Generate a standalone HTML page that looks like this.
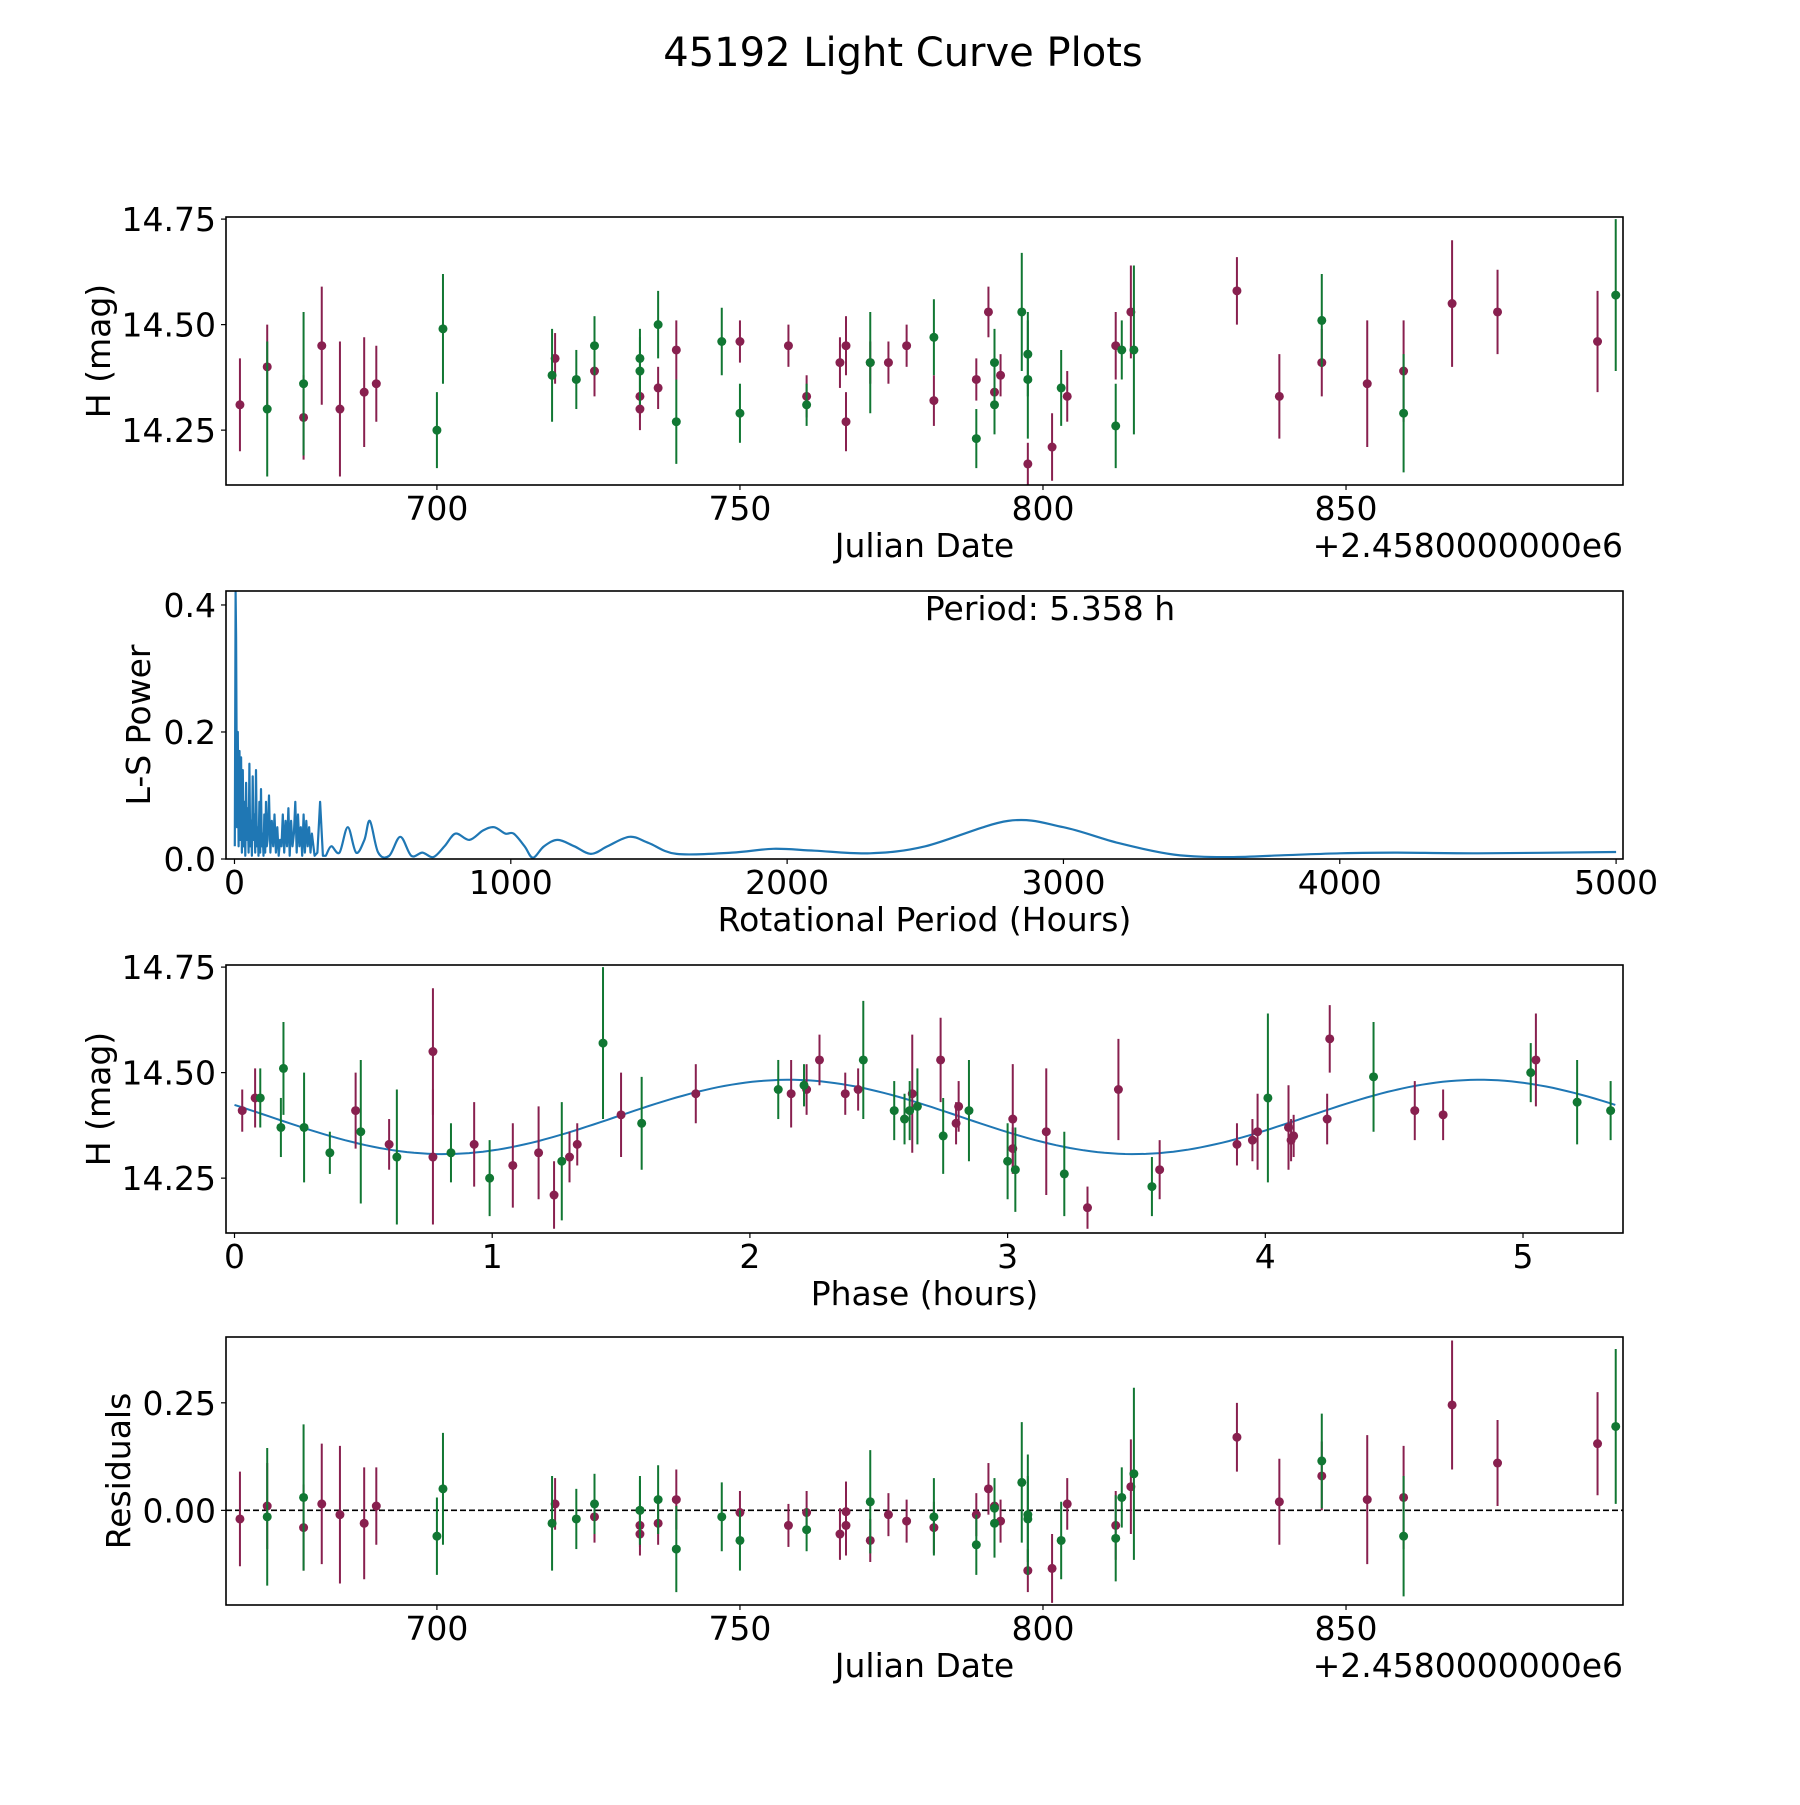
<!DOCTYPE html>
<html><head><meta charset="utf-8"><style>
html,body{margin:0;padding:0;background:#fff}
svg text{font-family:"DejaVu Sans","Liberation Sans",sans-serif;fill:#000}
</style></head><body>
<svg id="fig" width="1800" height="1800" viewBox="0 0 1800 1800" xmlns="http://www.w3.org/2000/svg">
<rect width="1800" height="1800" fill="#fff"/>
<text x="903" y="66" font-size="40" text-anchor="middle">45192 Light Curve Plots</text>
</svg>
<script>
// ---- Top light curve data ----
const purpleJD=[667.5,672,678,681,684,688,690,719.5,726,733.5,733.5,736.5,739.5,750,758,761,766.5,767.5,767.5,771.5,774.5,777.5,782,789,791,792,793,797.5,801.5,804,812,814.5,832,839,846,853.5,859.5,867.5,875,891.5];
const purpleH=[14.31,14.40,14.28,14.45,14.30,14.34,14.36,14.42,14.39,14.33,14.30,14.35,14.44,14.46,14.45,14.33,14.41,14.45,14.27,14.41,14.41,14.45,14.32,14.37,14.53,14.34,14.38,14.17,14.21,14.33,14.45,14.53,14.58,14.33,14.41,14.36,14.39,14.55,14.53,14.46];
const purpleErr=[0.11,0.10,0.10,0.14,0.16,0.13,0.09,0.06,0.06,0.05,0.05,0.05,0.07,0.05,0.05,0.05,0.06,0.07,0.07,0.05,0.05,0.05,0.06,0.05,0.06,0.05,0.05,0.05,0.08,0.06,0.08,0.11,0.08,0.10,0.08,0.15,0.12,0.15,0.10,0.12];
const greenJD=[672,678,701,700,719,723,726,733.5,733.5,736.5,739.5,747,750,761,771.5,782,789,792,792,796.5,797.5,797.5,803,812,813,815,846,859.5,894.5];
const greenH=[14.30,14.36,14.49,14.25,14.38,14.37,14.45,14.42,14.39,14.50,14.27,14.46,14.29,14.31,14.41,14.47,14.23,14.41,14.31,14.53,14.43,14.37,14.35,14.26,14.44,14.44,14.51,14.29,14.57];
const greenErr=[0.16,0.17,0.13,0.09,0.11,0.07,0.07,0.07,0.08,0.08,0.10,0.08,0.07,0.05,0.12,0.09,0.07,0.08,0.07,0.14,0.10,0.14,0.09,0.10,0.07,0.20,0.11,0.14,0.18];
// ---- Residuals ----
const purpleRes=[-0.02,0.01,-0.04,0.015,-0.01,-0.03,0.01,0.015,-0.015,-0.035,-0.055,-0.03,0.025,-0.005,-0.035,-0.005,-0.055,-0.003,-0.035,-0.07,-0.01,-0.025,-0.04,-0.01,0.05,0.01,-0.025,-0.14,-0.135,0.015,-0.035,0.055,0.17,0.02,0.08,0.025,0.03,0.245,0.11,0.155];
const greenRes=[-0.015,0.03,0.05,-0.06,-0.03,-0.02,0.015,0.0,0.0,0.025,-0.09,-0.015,-0.07,-0.045,0.02,-0.015,-0.08,-0.03,0.005,0.065,-0.02,-0.01,-0.07,-0.065,0.03,0.085,0.115,-0.06,0.195];
// ---- Phase plot ----
const purplePhase=[0.03,0.08,0.47,0.60,0.77,0.77,0.93,1.08,1.18,1.24,1.30,1.33,1.50,1.79,2.16,2.22,2.27,2.37,2.42,2.63,2.74,2.80,2.81,3.02,3.02,3.15,3.31,3.43,3.59,3.89,3.95,3.97,4.09,4.10,4.11,4.24,4.25,4.58,4.69,5.05];
const purplePhaseH=[14.41,14.44,14.41,14.33,14.55,14.30,14.33,14.28,14.31,14.21,14.30,14.33,14.40,14.45,14.45,14.46,14.53,14.45,14.46,14.45,14.53,14.38,14.42,14.39,14.32,14.36,14.18,14.46,14.27,14.33,14.34,14.36,14.37,14.34,14.35,14.39,14.58,14.41,14.40,14.53];
const purplePhaseErr=[0.05,0.07,0.09,0.06,0.15,0.16,0.10,0.10,0.11,0.08,0.06,0.05,0.10,0.07,0.08,0.06,0.06,0.05,0.05,0.14,0.10,0.05,0.06,0.13,0.05,0.15,0.05,0.12,0.07,0.05,0.05,0.09,0.10,0.05,0.05,0.06,0.08,0.07,0.06,0.11];
const greenPhase=[0.10,0.18,0.19,0.27,0.37,0.49,0.63,0.84,0.99,1.27,1.43,1.58,2.11,2.21,2.44,2.56,2.60,2.62,2.65,2.75,2.85,3.00,3.03,3.22,3.56,4.01,4.42,5.03,5.21,5.34];
const greenPhaseH=[14.44,14.37,14.51,14.37,14.31,14.36,14.30,14.31,14.25,14.29,14.57,14.38,14.46,14.47,14.53,14.41,14.39,14.41,14.42,14.35,14.41,14.29,14.27,14.26,14.23,14.44,14.49,14.50,14.43,14.41];
const greenPhaseErr=[0.07,0.07,0.11,0.13,0.05,0.17,0.16,0.07,0.09,0.14,0.18,0.11,0.07,0.05,0.14,0.07,0.06,0.07,0.09,0.09,0.12,0.09,0.10,0.10,0.07,0.20,0.13,0.07,0.10,0.07];
const fitParams=[14.395,0.088,2.679,2.15]; // mean, amplitude, period (h), phase of max
// ---- Periodogram ----
const lsPeriod=[1,4,6,9,12,15,18,21,24,27,30,33,36,39,42,45,48,51,54,57,60,63,66,69,72,75,78,81,84,87,90,93,96,99,102,105,108,111,114,117,120,125,130,135,140,145,150,155,160,165,170,175,180,185,190,195,200,205,210,215,220,225,230,235,240,245,250,255,260,265,270,275,280,290,300,310,320,330,350,380,410,440,470,490,520,560,600,640,680,720,760,800,850,900,940,980,1010,1050,1080,1120,1170,1230,1290,1350,1430,1500,1600,1800,1950,2100,2300,2500,2800,3000,3200,3400,3600,3800,4000,4200,4500,5000];
const lsPower=[0.02,0.42,0.35,0.05,0.20,0.02,0.17,0.03,0.16,0.01,0.14,0.02,0.09,0.005,0.12,0.03,0.08,0.01,0.15,0.02,0.06,0.005,0.13,0.03,0.07,0.01,0.14,0.02,0.05,0.005,0.09,0.01,0.11,0.02,0.04,0.005,0.07,0.01,0.09,0.02,0.03,0.10,0.01,0.06,0.02,0.07,0.01,0.05,0.005,0.03,0.02,0.07,0.01,0.06,0.02,0.08,0.005,0.06,0.02,0.04,0.09,0.01,0.07,0.02,0.05,0.005,0.07,0.01,0.06,0.02,0.05,0.01,0.04,0.005,0.01,0.09,0.005,0.005,0.02,0.01,0.05,0.01,0.03,0.06,0.01,0.005,0.035,0.005,0.01,0.003,0.02,0.04,0.03,0.045,0.05,0.04,0.04,0.02,0.002,0.02,0.03,0.02,0.008,0.02,0.035,0.025,0.008,0.01,0.016,0.013,0.009,0.02,0.06,0.05,0.025,0.007,0.003,0.006,0.009,0.01,0.009,0.011];

const svg=document.getElementById('fig');
const NS='http://www.w3.org/2000/svg';
function mk(tag,attrs,parent){const e=document.createElementNS(NS,tag);for(const k in attrs)e.setAttribute(k,attrs[k]);(parent||svg).appendChild(e);return e;}
const L=226,R=1623,AH=268;
const PURPLE='#88204f',GREEN='#117733',FS=33;

function panel(top,xmin,xmax,ymin,ymax,xticks,xlabs,yticks,ylabs,xlabel,ylabel,offset,name,yx){
  const bot=top+AH;
  const g=mk('g',{});
  
  
  const sx=v=>L+(v-xmin)/(xmax-xmin)*(R-L);
  const sy=v=>bot-(v-ymin)/(ymax-ymin)*(bot-top);
  const clip=mk('clipPath',{id:'c'+name},g);
  mk('rect',{x:L,y:top,width:R-L,height:bot-top},clip);
  const plot=mk('g',{'clip-path':'url(#c'+name+')'},g);
  xticks.forEach((t,i)=>{const x=sx(t);
    const tk=mk('line',{x1:x,x2:x,y1:bot,y2:bot+5,stroke:'#000','stroke-width':1.2},g);
    
    
    const tl=mk('text',{x:x,y:bot+35,'font-size':FS,'text-anchor':'middle'},g);tl.textContent=xlabs[i];
    
    });
  yticks.forEach((t,i)=>{const y=sy(t);
    const tk=mk('line',{x1:L-5,x2:L,y1:y,y2:y,stroke:'#000','stroke-width':1.2},g);
    
    
    const tl=mk('text',{x:L-10,y:y+12,'font-size':FS,'text-anchor':'end'},g);tl.textContent=ylabs[i];
    
    });
  const xl=mk('text',{x:(L+R)/2,y:bot+72,'font-size':FS,'text-anchor':'middle'},g);xl.textContent=xlabel;
  
  
  const yl=mk('text',{x:yx,y:(top+bot)/2,'font-size':FS,'text-anchor':'middle',transform:`rotate(-90 ${yx} ${(top+bot)/2})`},g);yl.textContent=ylabel;
  
  
  if(offset){const o=mk('text',{x:R,y:bot+72,'font-size':FS,'text-anchor':'end'},g);o.textContent=offset;
    
    }
  return {g,plot,sx,sy,top,bot};
}
function frame(p){const f=mk('rect',{x:L,y:p.top,width:R-L,height:p.bot-p.top,fill:'none',stroke:'#000','stroke-width':1.6},p.g);
  
  }
function errpts(p,xs,ys,es,col,nm){
  xs.forEach((x,i)=>{const px=p.sx(x);
    const l=mk('line',{x1:px,x2:px,y1:p.sy(ys[i]-es[i]),y2:p.sy(ys[i]+es[i]),stroke:col,'stroke-width':2},p.plot);
    
    
    const c=mk('circle',{cx:px,cy:p.sy(ys[i]),r:4.5,fill:col},p.plot);
    
    });
}
const jdT=[700,750,800,850],jdL=['700','750','800','850'];
// Panel 1
const p1=panel(217,665.2,895.7,14.12,14.755,jdT,jdL,[14.25,14.5,14.75],['14.25','14.50','14.75'],'Julian Date','H (mag)','+2.4580000000e6','light-curve-panel',110);
errpts(p1,purpleJD,purpleH,purpleErr,PURPLE,'purple');
errpts(p1,greenJD,greenH,greenErr,GREEN,'green');
frame(p1);
// Panel 2
const p2=panel(591,-30.7,5025,0,0.422,[0,1000,2000,3000,4000,5000],['0','1000','2000','3000','4000','5000'],[0,0.2,0.4],['0.0','0.2','0.4'],'Rotational Period (Hours)','L-S Power',null,'periodogram-panel',150);
const P=lsPeriod.map((x,i)=>[p2.sx(x),p2.sy(lsPower[i])]);
let d='M'+P[0][0].toFixed(1)+' '+P[0][1].toFixed(1);
for(let i=1;i<P.length;i++){
  if(lsPeriod[i]<=330){d+=' L'+P[i][0].toFixed(1)+' '+P[i][1].toFixed(1);continue;}
  const p0=P[i-2]||P[i-1],p1_=P[i-1],p2_=P[i],p3_=P[i+1]||P[i];
  const c1=[p1_[0]+(p2_[0]-p0[0])/6,p1_[1]+(p2_[1]-p0[1])/6];
  const c2=[p2_[0]-(p3_[0]-p1_[0])/6,p2_[1]-(p3_[1]-p1_[1])/6];
  d+=` C${c1[0].toFixed(1)} ${c1[1].toFixed(1)} ${c2[0].toFixed(1)} ${c2[1].toFixed(1)} ${p2_[0].toFixed(1)} ${p2_[1].toFixed(1)}`;
}
const ls=mk('path',{d:d,fill:'none',stroke:'#1f77b4','stroke-width':2.2,'stroke-linejoin':'round'},p2.plot);


const pt=mk('text',{x:1050,y:620,'font-size':FS,'text-anchor':'middle'},p2.g);pt.textContent='Period: 5.358 h';


frame(p2);
// Panel 3
const p3=panel(965,-0.033,5.388,14.12,14.755,[0,1,2,3,4,5],['0','1','2','3','4','5'],[14.25,14.5,14.75],['14.25','14.50','14.75'],'Phase (hours)','H (mag)',null,'phase-panel',110);
let fd='';
for(let i=0;i<=200;i++){const ph=5.358*i/200;const v=fitParams[0]+fitParams[1]*Math.cos(2*Math.PI*(ph-fitParams[3])/fitParams[2]);fd+=(i?'L':'M')+p3.sx(ph).toFixed(1)+' '+p3.sy(v).toFixed(1)+' ';}
const fit=mk('path',{d:fd,fill:'none',stroke:'#1f77b4','stroke-width':2},p3.plot);


errpts(p3,purplePhase,purplePhaseH,purplePhaseErr,PURPLE,'purple');
errpts(p3,greenPhase,greenPhaseH,greenPhaseErr,GREEN,'green');
frame(p3);
// Panel 4
const p4=panel(1337,665.2,895.7,-0.22,0.403,jdT,jdL,[0,0.25],['0.00','0.25'],'Julian Date','Residuals','+2.4580000000e6','residuals-panel',130);
const zl=mk('line',{x1:L,x2:R,y1:p4.sy(0),y2:p4.sy(0),stroke:'#000','stroke-width':1.6,'stroke-dasharray':'6 3'},p4.plot);


errpts(p4,purpleJD,purpleRes,purpleErr,PURPLE,'purple');
errpts(p4,greenJD,greenRes,greenErr,GREEN,'green');
frame(p4);
</script>
</body></html>
